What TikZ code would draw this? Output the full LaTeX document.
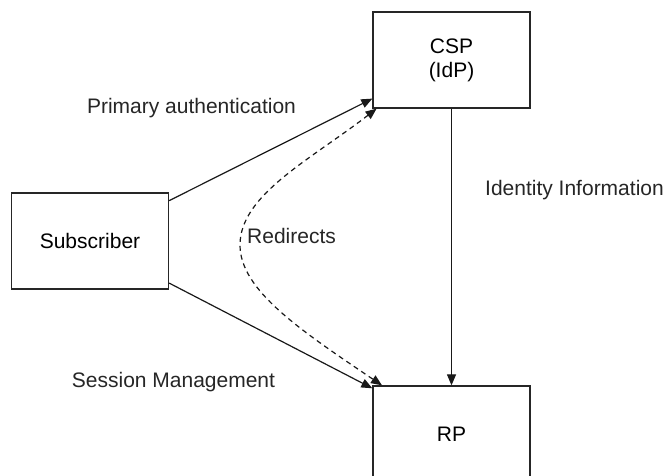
\documentclass[tikz,border=0pt]{standalone}
\usepackage{fontspec}
\setmainfont{Liberation Sans}
\usetikzlibrary{arrows.meta}
\begin{document}
\begin{tikzpicture}[x=1pt,y=-1pt,
  box/.style={draw=black!85, line width=1.3pt, minimum width=157pt, minimum height=96pt, inner sep=0pt, align=center, font=\fontsize{21}{24}\selectfont},
  lbl/.style={anchor=base, inner sep=0pt, font=\fontsize{21}{24}\selectfont, text=black!85},
  conn/.style={draw=black!90, line width=1.2pt, -{Triangle[length=11pt,width=9pt]}},
  dconn/.style={draw=black!90, line width=1.2pt, {Triangle[length=11pt,width=9pt]}-{Triangle[length=11pt,width=9pt]}, dash pattern=on 5pt off 4pt}]
\useasboundingbox (0,0) rectangle (672,476);
\clip (0,0) rectangle (672,476);
\node[box] (sub) at (90,241) {Subscriber};
\node[box] (csp) at (451.5,60) {CSP\\(IdP)};
\node[box] (rp) at (451.5,434) {RP};
\coordinate (bend) at (240,245);
\draw[conn] (sub.27.7) -- (csp.206.7);
\draw[conn] (sub.-28.3) -- (rp.150);
\draw[conn] (csp.south) -- (rp.north);
\draw[dconn] (csp.213.9) .. controls (310,160) and (240,195) .. (bend) .. controls (240,290) and (300,330) .. (rp.145.4);
\node[lbl] (pa) at (191.5,114) {Primary authentication};
\node[lbl] (sm) at (173.5,387) {Session Management};
\node[lbl, anchor=base west] (rd) at (247,243) {Redirects};
\node[lbl, anchor=base west] (ii) at (485,195) {Identity Information};
\end{tikzpicture}
\end{document}
